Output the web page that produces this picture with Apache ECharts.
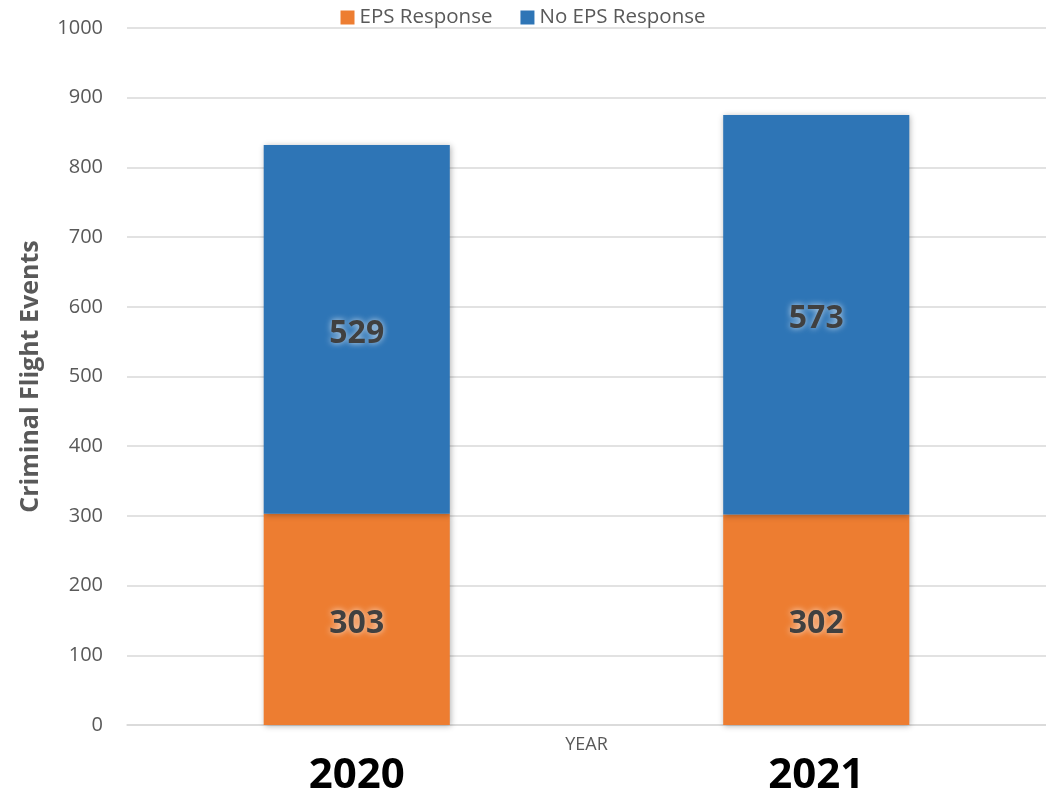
<!DOCTYPE html>
<html><head><meta charset="utf-8">
<script src="https://cdn.jsdelivr.net/npm/echarts@6/dist/echarts.min.js"></script>
<style>html,body{margin:0;padding:0;background:#fff}#c{width:1046px;height:796px}</style>
</head><body><div id="c"></div>
<script>
const years = ['2020', '2021'];
const epsResponse = [303, 302];
const noEpsResponse = [529, 573];
const yTicks = [0, 100, 200, 300, 400, 500, 600, 700, 800, 900, 1000];

const chart = echarts.init(document.getElementById('c'));
const labelStyle = {
  show: true, position: 'inside', offset: [0, 4], color: '#404040', fontSize: 32, fontWeight: 'bold',
  fontFamily: 'Open Sans, sans-serif',
  textShadowColor: 'rgba(255,255,255,0.75)', textShadowBlur: 6
};
chart.setOption({
  animation: false,
  legend: {
    top: 2, left: 'center', itemWidth: 14, itemHeight: 14, itemGap: 28,
    icon: 'rect',
    textStyle: { color: '#595959', fontSize: 20.5, fontFamily: 'Open Sans, sans-serif' },
    data: ['EPS Response', 'No EPS Response']
  },
  grid: { left: 127, right: 0, top: 28, bottom: 71, containLabel: false, outerBoundsMode: 'none' },
  xAxis: {
    type: 'category', data: years,
    name: 'YEAR', nameLocation: 'middle', nameGap: 20, nameMoveOverlap: false,
    nameTextStyle: { color: '#595959', fontSize: 18, fontFamily: 'Open Sans, sans-serif', verticalAlign: 'middle' },
    axisLine: { lineStyle: { color: '#d9d9d9', width: 1.5 } },
    axisTick: { show: false },
    axisLabel: { margin: 30, color: '#000', fontSize: 42, fontWeight: 'bold', fontFamily: '"Open Sans", sans-serif', verticalAlign: 'top', lineHeight: 42 }
  },
  yAxis: {
    type: 'value', min: 0, max: 1000, interval: 100,
    name: 'Criminal Flight Events', nameLocation: 'middle', nameGap: 84, nameMoveOverlap: false,
    nameTextStyle: { color: '#595959', fontSize: 25, fontWeight: 'bold', fontFamily: 'Open Sans, sans-serif' },
    axisLine: { show: false }, axisTick: { show: false },
    axisLabel: { margin: 24, color: '#595959', fontSize: 20, fontFamily: 'Open Sans, sans-serif',
      formatter: v => yTicks.includes(v) ? String(v) : '' },
    splitLine: { lineStyle: { color: '#d9d9d9', width: 1.5 } }
  },
  series: [
    { name: 'EPS Response', type: 'bar', stack: 't', data: epsResponse, barWidth: '40.5%',
      itemStyle: { color: '#ED7D31', shadowColor: 'rgba(0,0,0,0.3)', shadowBlur: 6, shadowOffsetX: 1, shadowOffsetY: 1 },
      label: labelStyle },
    { name: 'No EPS Response', type: 'bar', stack: 't', data: noEpsResponse, barWidth: '40.5%',
      itemStyle: { color: '#2E75B6', shadowColor: 'rgba(0,0,0,0.3)', shadowBlur: 6, shadowOffsetX: 1, shadowOffsetY: 1 },
      label: labelStyle }
  ]
});
</script></body></html>
